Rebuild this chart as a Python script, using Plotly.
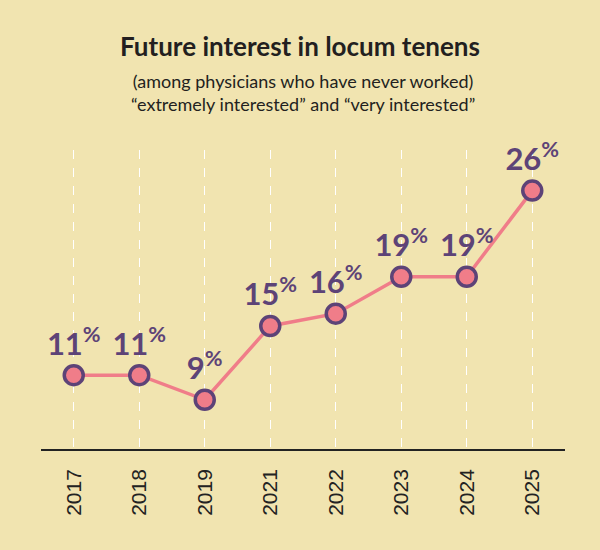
import plotly.graph_objects as go

years = ["2017", "2018", "2019", "2021", "2022", "2023", "2024", "2025"]
values = [11, 11, 9, 15, 16, 19, 19, 26]
labels = [f"<b>{v}</b><sup><b>%</b></sup>" for v in values]

bg = "#f1e4b0"
purple = "#5d4377"
pink = "#f07d89"

fig = go.Figure()
fig.add_trace(go.Scatter(
    x=years, y=values, mode="lines+markers+text",
    line=dict(color=pink, width=3.5),
    marker=dict(size=19, color=pink, line=dict(color=purple, width=3.5)),
    text=labels, textposition="top center",
    textfont=dict(family="Lato", size=31, color=purple),
    cliponaxis=False, hoverinfo="skip",
))

fig.update_layout(
    width=600, height=550,
    paper_bgcolor=bg, plot_bgcolor=bg,
    margin=dict(l=41, r=35, t=150, b=101),
    showlegend=False,
    title=dict(
        text="<b>Future interest in locum tenens</b>",
        x=0.5, xanchor="center", y=0.915, yanchor="middle",
        font=dict(family="Lato", size=26, color="#231f20"),
    ),
    annotations=[dict(
        text="(among physicians who have never worked)<br>“extremely interested” and “very interested”",
        xref="paper", yref="paper", x=0.5, y=1.0, yshift=58,
        showarrow=False, xanchor="center", yanchor="middle",
        font=dict(family="Lato", size=18, color="#231f20"),
    )],
)
fig.update_xaxes(
    type="category", range=[-0.5, 7.5],
    showgrid=True, gridcolor="#ffffff", griddash="dash", gridwidth=1,
    showline=True, linecolor="#222222", linewidth=1.5,
    ticks="", tickangle=-90, ticklabelstandoff=10,
    tickfont=dict(family="Liberation Sans", size=21, color="#222222"),
)
fig.update_yaxes(range=[5, 29.3], showgrid=False, zeroline=False, showticklabels=False)

fig.write_html("out.html")
